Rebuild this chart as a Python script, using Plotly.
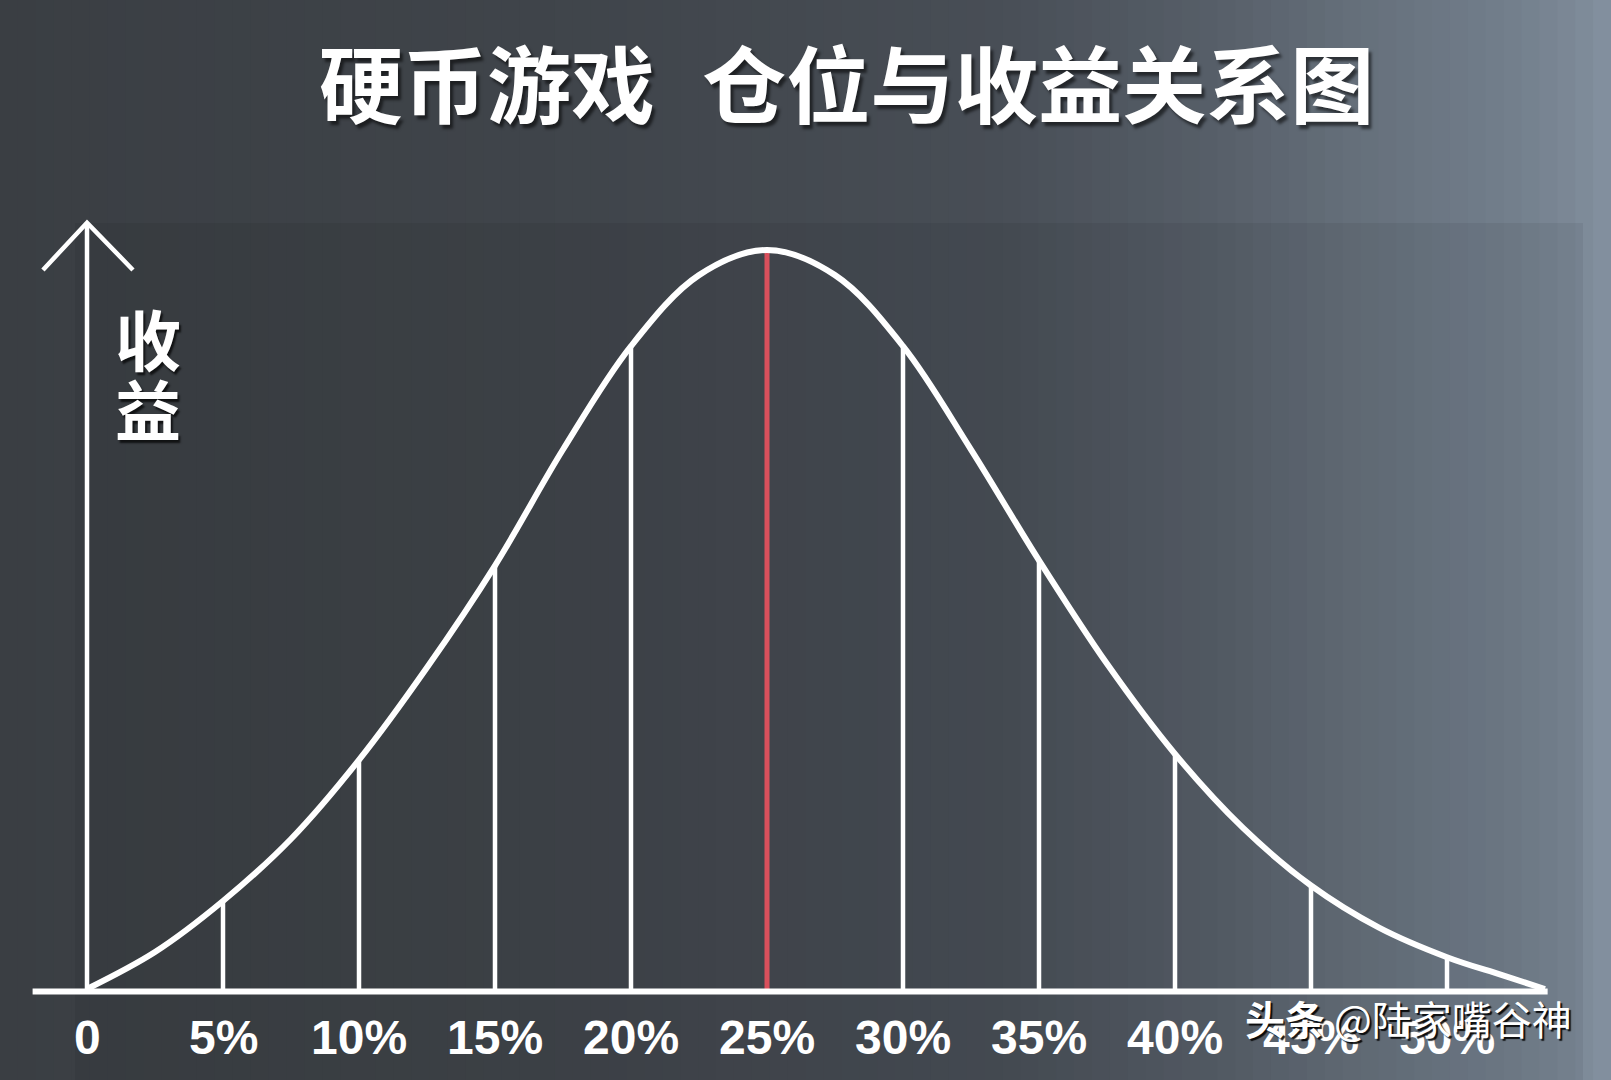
import plotly.graph_objects as go

# 仓位(%) 与 收益(峰值 = 100) —— 从原图读数
cangwei = [0, 2.5, 5, 7.5, 10, 12.5, 15, 17.5, 20, 22.5, 25, 27.5, 30,
           32.5, 35, 37.5, 40, 42.5, 45, 47.5, 50, 52, 53.6]
shouyi = [0, 5.0, 11.9, 20.3, 31, 43.5, 57.3, 73, 87, 96.6, 100, 96.6, 87,
          73, 58, 44.0, 31.8, 21.8, 14.0, 8.3, 4.3, 1.9, 0]

ticks = [0, 5, 10, 15, 20, 25, 30, 35, 40, 45, 50]
tick_labels = ['0', '5%', '10%', '15%', '20%', '25%', '30%', '35%', '40%', '45%', '50%']
best_pos = 25

title = '硬币游戏\u2002\u200a仓位与收益关系图'
y_title = ['收', '益']
watermark = '<b>头条</b> @陆家嘴谷神'

W, H = 1611, 1080
# pixel mapping: x px = 87 + 27.2*x ; y px = 989 - 7.39*y
x_rng = [-87 / 27.2, (W - 87) / 27.2]
y_rng = [(989 - H) / 7.39, 989 / 7.39]

fig = go.Figure()

# ---- background gradient (vertical strips) ----
stops = [(0.0, (58, 62, 67)), (0.37, (64, 69, 75)), (0.62, (72, 78, 86)),
         (0.75, (86, 94, 104)), (0.84, (101, 111, 122)), (0.93, (113, 125, 138)),
         (0.97, (122, 134, 148)), (1.0, (132, 145, 160))]


def grad(t):
    for (a, ca), (b, cb) in zip(stops[:-1], stops[1:]):
        if a <= t <= b:
            f = (t - a) / (b - a)
            c = [round(ca[k] + (cb[k] - ca[k]) * f) for k in range(3)]
            return 'rgb(%d,%d,%d)' % tuple(c)
    return 'rgb(%d,%d,%d)' % stops[-1][1]


shapes = []
n = 90
for i in range(n):
    shapes.append(dict(type='rect', xref='paper', yref='paper', layer='below',
                       x0=i / n, x1=(i + 1.3) / n, y0=0, y1=1,
                       fillcolor=grad((i + 0.5) / n), line=dict(width=0)))
# darker panel
shapes.append(dict(type='rect', xref='paper', yref='paper', layer='below',
                   x0=75 / W, x1=1583 / W, y0=0, y1=1 - 223 / H,
                   fillcolor='rgba(0,0,0,0.06)', line=dict(width=0)))

# baseline
shapes.append(dict(type='line', x0=-2.0, x1=53.7, y0=-0.35, y1=-0.35,
                   line=dict(color='white', width=6)))
# y axis with arrow
shapes.append(dict(type='line', x0=0, x1=0, y0=0, y1=103.7,
                   line=dict(color='white', width=4.5)))
shapes.append(dict(type='path', path='M -1.62 97.3 L 0 103.7 L 1.69 97.3',
                   line=dict(color='white', width=4.5)))

# vertical lines under the curve
hoehe = dict(zip(cangwei, shouyi))
vx, vy = [], []
for t in ticks[1:]:
    if t == best_pos:
        continue
    vx += [t, t, None]
    vy += [0, hoehe[t], None]
fig.add_trace(go.Scatter(x=vx, y=vy, mode='lines', line=dict(color='white', width=4.5),
                         hoverinfo='skip', showlegend=False))
fig.add_trace(go.Scatter(x=[best_pos, best_pos], y=[0, hoehe[best_pos]], mode='lines',
                         line=dict(color='#d9505c', width=5),
                         hoverinfo='skip', showlegend=False))

# the curve
fig.add_trace(go.Scatter(x=cangwei, y=shouyi, mode='lines',
                         line=dict(color='white', width=6, shape='spline', smoothing=1.0),
                         hoverinfo='skip', showlegend=False))

ann = []
for t, lab in zip(ticks, tick_labels):
    ann.append(dict(x=t, y=-6.5, text=lab, showarrow=False, xanchor='center', yanchor='middle',
                    font=dict(family='Liberation Sans', size=48, color='white', weight='bold')))

ann.append(dict(x=847 / W, y=1 - 80 / H, xref='paper', yref='paper', text=title,
                showarrow=False, xanchor='center', yanchor='middle',
                font=dict(family='Noto Sans CJK SC', size=84, color='white', weight='bold',
                          shadow='3px 4px 3px rgba(0,0,0,0.55)')))
for ch, yy in zip(y_title, [337, 407]):
    ann.append(dict(x=148 / W, y=1 - yy / H, xref='paper', yref='paper', text=ch,
                    showarrow=False, xanchor='center', yanchor='middle',
                    font=dict(family='Noto Sans CJK SC', size=66, color='white', weight='bold',
                              shadow='2px 3px 2px rgba(0,0,0,0.7)')))
ann.append(dict(x=1243 / W, y=1 - 1018 / H, xref='paper', yref='paper', text=watermark,
                showarrow=False, xanchor='left', yanchor='middle',
                font=dict(family='Noto Sans CJK SC', size=40, color='white',
                          shadow='2px 2px 1px rgba(0,0,0,0.9)')))

fig.update_layout(
    width=W, height=H, margin=dict(l=0, r=0, t=0, b=0),
    paper_bgcolor='rgb(58,62,67)', plot_bgcolor='rgba(0,0,0,0)',
    xaxis=dict(range=x_rng, visible=False, fixedrange=True),
    yaxis=dict(range=y_rng, visible=False, fixedrange=True),
    shapes=shapes, annotations=ann, showlegend=False,
)

fig.write_html('out.html', config={'displayModeBar': False},
               post_script="document.body.style.margin='0';")
